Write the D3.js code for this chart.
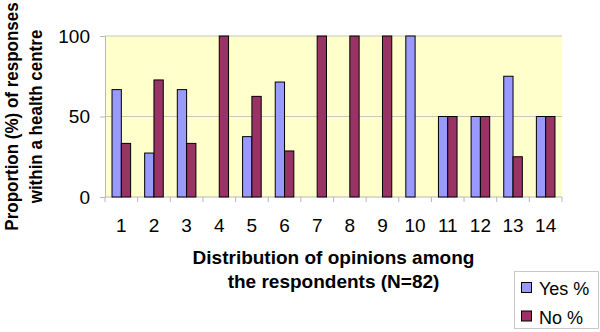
<!DOCTYPE html>
<html>
<head>
<meta charset="utf-8">
<script src="https://cdn.jsdelivr.net/npm/d3@7"></script>
<style>
  body { margin: 0; background: #fff; }
  svg { display: block; font-family: "Liberation Sans", Arial, sans-serif; }
</style>
</head>
<body>
<div id="chart"></div>
<script>
var categories = ["1","2","3","4","5","6","7","8","9","10","11","12","13","14"];
var yesValues = [66.7, 27.3, 66.7, 0, 37.5, 71.4, 0, 0, 0, 100, 50, 50, 75, 50];
var noValues  = [33.3, 72.7, 33.3, 100, 62.5, 28.6, 100, 100, 100, 0, 50, 50, 25, 50];
var seriesNames = ["Yes %", "No %"];
var yTicks = [0, 50, 100];

var width = 600, height = 332,
    plot = { left: 105, right: 562, top: 36, bottom: 197 },
    fontSize = 19;

var colorScale = d3.scaleOrdinal()
    .domain(seriesNames)
    .range(["#9999FF", "#993366"]);

var data = categories.map(function(c, i){
    return { cat: c, "Yes %": yesValues[i], "No %": noValues[i] };
});

var x0 = d3.scaleBand()
    .domain(categories)
    .range([plot.left, plot.right])
    .paddingInner(0.43)
    .paddingOuter(0.215);

var x1 = d3.scaleBand()
    .domain(seriesNames)
    .range([0, x0.bandwidth()]);

var yScale = d3.scaleLinear()
    .domain([0, 100])
    .range([plot.bottom, plot.top]);

var svg = d3.select("#chart").append("svg")
    .attr("width", width)
    .attr("height", height);

// plot background
svg.append("rect")
    .attr("x", plot.left).attr("y", plot.top)
    .attr("width", plot.right - plot.left)
    .attr("height", plot.bottom - plot.top)
    .attr("fill", "#FFFFCC");

// gridlines
svg.append("g")
    .selectAll("line")
    .data(yTicks.filter(function(d){ return d > 0; }))
    .enter().append("line")
    .attr("x1", plot.left).attr("x2", plot.right)
    .attr("y1", function(d){ return yScale(d); })
    .attr("y2", function(d){ return yScale(d); })
    .attr("stroke", "#c8c8b4")
    .attr("stroke-width", 1);

// y axis
var yAxis = d3.axisLeft(yScale).tickValues(yTicks).tickSize(5).tickPadding(10);
var gy = svg.append("g")
    .attr("transform", "translate(" + plot.left + ",0)")
    .call(yAxis);
gy.select(".domain").attr("stroke", "#b8b8b8");
gy.selectAll(".tick line").attr("stroke", "#b8b8b8");
gy.selectAll("text").attr("font-size", fontSize).attr("fill", "#000")
    .attr("font-family", "Liberation Sans, Arial, sans-serif");

// x axis
var xEdges = d3.scaleLinear().domain([0, categories.length]).range([plot.left, plot.right]);
var gx = svg.append("g")
    .attr("transform", "translate(0," + plot.bottom + ")");
gx.append("line")
    .attr("x1", plot.left).attr("x2", plot.right)
    .attr("stroke", "#b8b8b8");
gx.selectAll(".edge")
    .data(d3.range(categories.length + 1))
    .enter().append("line")
    .attr("class", "edge")
    .attr("x1", function(d){ return xEdges(d); })
    .attr("x2", function(d){ return xEdges(d); })
    .attr("y1", 0).attr("y2", 5)
    .attr("stroke", "#b8b8b8");
gx.selectAll(".lbl")
    .data(categories)
    .enter().append("text")
    .attr("class", "lbl")
    .attr("x", function(d){ return x0(d) + x0.bandwidth() / 2; })
    .attr("y", 35)
    .attr("text-anchor", "middle")
    .attr("font-size", fontSize)
    .text(function(d){ return d; });

// bars
svg.append("g")
    .selectAll("g")
    .data(data)
    .enter().append("g")
    .attr("transform", function(d){ return "translate(" + x0(d.cat) + ",0)"; })
    .selectAll("rect")
    .data(function(d){ return seriesNames.map(function(k){ return { key: k, value: d[k] }; }); })
    .enter().append("rect")
    .filter(function(d){ return d.value > 0; })
    .attr("x", function(d){ return x1(d.key); })
    .attr("y", function(d){ return yScale(d.value); })
    .attr("width", x1.bandwidth())
    .attr("height", function(d){ return yScale(0) - yScale(d.value); })
    .attr("fill", function(d){ return colorScale(d.key); })
    .attr("stroke", "#000")
    .attr("stroke-width", 1);

// y title: smaller along its length, stretched across like the reference
var yTitle = svg.append("text")
    .attr("transform", "translate(18," + ((plot.top + plot.bottom) / 2) + ") rotate(-90) scale(1,1.118)")
    .attr("text-anchor", "middle")
    .attr("font-size", 17)
    .attr("font-weight", "bold");
yTitle.append("tspan").attr("x", 0).attr("y", 0).text("Proportion (%) of responses");
yTitle.append("tspan").attr("x", 0).attr("y", 21.3).text("within a health centre");

// x title
var xTitle = svg.append("text")
    .attr("text-anchor", "middle")
    .attr("font-size", fontSize)
    .attr("font-weight", "bold");
xTitle.append("tspan").attr("x", (plot.left + plot.right) / 2).attr("y", 264).text("Distribution of opinions among");
xTitle.append("tspan").attr("x", (plot.left + plot.right) / 2).attr("y", 288).text("the respondents (N=82)");

// legend
var legendBox = svg.append("g");
legendBox.append("rect")
    .attr("x", 514.5).attr("y", 271.5)
    .attr("width", 84).attr("height", 57)
    .attr("fill", "#fff")
    .attr("stroke", "#c8c8c8");

var legend = legendBox.selectAll(".item")
    .data(seriesNames)
    .enter().append("g")
    .attr("class", "item")
    .attr("transform", function(d, i){ return "translate(521," + (282 + i * 28.5) + ")"; });

legend.append("rect")
    .attr("x", 0.5).attr("y", 0.5)
    .attr("width", 10).attr("height", 10)
    .attr("fill", colorScale)
    .attr("stroke", "#000");

legend.append("text")
    .attr("x", 18)
    .attr("y", 13)
    .attr("font-size", 18)
    .text(function(d){ return d; });
</script>
</body>
</html>
